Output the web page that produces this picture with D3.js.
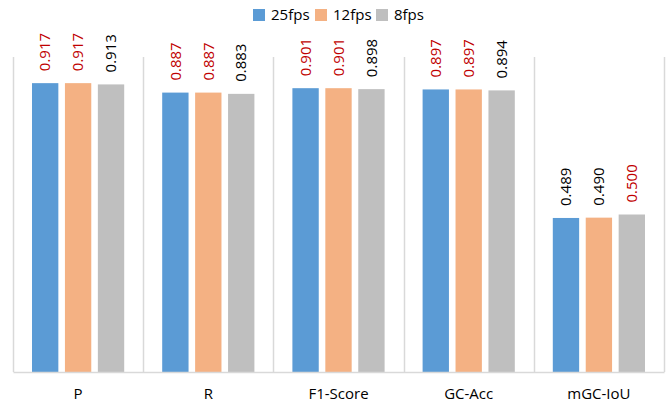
<!DOCTYPE html>
<html>
<head>
<meta charset="utf-8">
<script src="https://cdn.jsdelivr.net/npm/d3@7"></script>
<style>
  html, body { margin: 0; padding: 0; background: #fff; }
  svg { display: block; font-family: "Open Sans", sans-serif; }
</style>
</head>
<body>
<svg id="chart" width="672" height="410"></svg>
<script>
const categories = ["P", "R", "F1-Score", "GC-Acc", "mGC-IoU"];
const seriesNames = ["25fps", "12fps", "8fps"];
const values25 = [0.917, 0.887, 0.901, 0.897, 0.489];
const values12 = [0.917, 0.887, 0.901, 0.897, 0.490];
const values8  = [0.913, 0.883, 0.898, 0.894, 0.500];
const colors = ["#5B9BD5", "#F4B183", "#BFBFBF"];

const seriesValues = [values25, values12, values8];

const svg = d3.select("#chart");
const margin = {left: 13, right: 8, top: 57, bottom: 38};
const W = 672, H = 410;

const x = d3.scaleBand().domain(categories).range([margin.left, W - margin.right]).paddingInner(0).paddingOuter(0);
const y = d3.scaleLinear().domain([0, 1]).range([H - margin.bottom, margin.top]);
const inner = d3.scaleBand().domain(seriesNames).range([19, x.bandwidth() - 19]).paddingInner(0.2).paddingOuter(0);

// vertical category separators
const sepPositions = categories.map(c => x(c)).concat([x(categories[categories.length - 1]) + x.bandwidth()]);
svg.append("g").selectAll("line").data(sepPositions).join("line")
  .attr("x1", d => Math.round(d) + 0.5).attr("x2", d => Math.round(d) + 0.5)
  .attr("y1", y(1)).attr("y2", y(0))
  .attr("stroke", "#d9d9d9").attr("stroke-width", 1.5);

// bars
const rows = [];
categories.forEach((c, i) => {
  const vals = seriesValues.map(s => s[i]);
  const mx = d3.max(vals);
  seriesNames.forEach((s, j) => rows.push({cat: c, series: s, j, value: vals[j], best: vals[j] === mx}));
});

svg.append("g").selectAll("rect").data(rows).join("rect")
  .attr("x", d => x(d.cat) + inner(d.series))
  .attr("width", inner.bandwidth())
  .attr("y", d => y(d.value))
  .attr("height", d => y(0) - y(d.value))
  .attr("fill", d => colors[d.j]);

// baseline axis
const xAxis = d3.axisBottom(x).tickSize(0).tickPadding(16);
const gx = svg.append("g").attr("transform", `translate(0,${y(0)})`).call(xAxis);
gx.select(".domain").attr("stroke", "#d9d9d9").attr("stroke-width", 1.5);
gx.selectAll("text").attr("font-size", 15).attr("fill", "#000").attr("font-family", "Open Sans, sans-serif");

// value labels
svg.append("g").selectAll("text").data(rows).join("text")
  .attr("transform", d => `translate(${x(d.cat) + inner(d.series) + inner.bandwidth() / 2},${y(d.value) - 12}) rotate(-90)`)
  .attr("dy", "0.35em")
  .attr("text-anchor", "start")
  .attr("font-size", 15)
  .attr("fill", d => d.best ? "#C00000" : "#000")
  .text(d => d.value.toFixed(3));

// legend
const legendX = [253, 315, 376];
const lg = svg.append("g").selectAll("g").data(seriesNames).join("g")
  .attr("transform", (d, i) => `translate(${legendX[i]},9)`);
lg.append("rect").attr("width", 12).attr("height", 12).attr("fill", (d, i) => colors[i]);
lg.append("text").attr("x", 18).attr("y", 6).attr("dy", "0.35em")
  .attr("font-size", 15).attr("fill", "#000").text(d => d);
</script>
</body>
</html>
